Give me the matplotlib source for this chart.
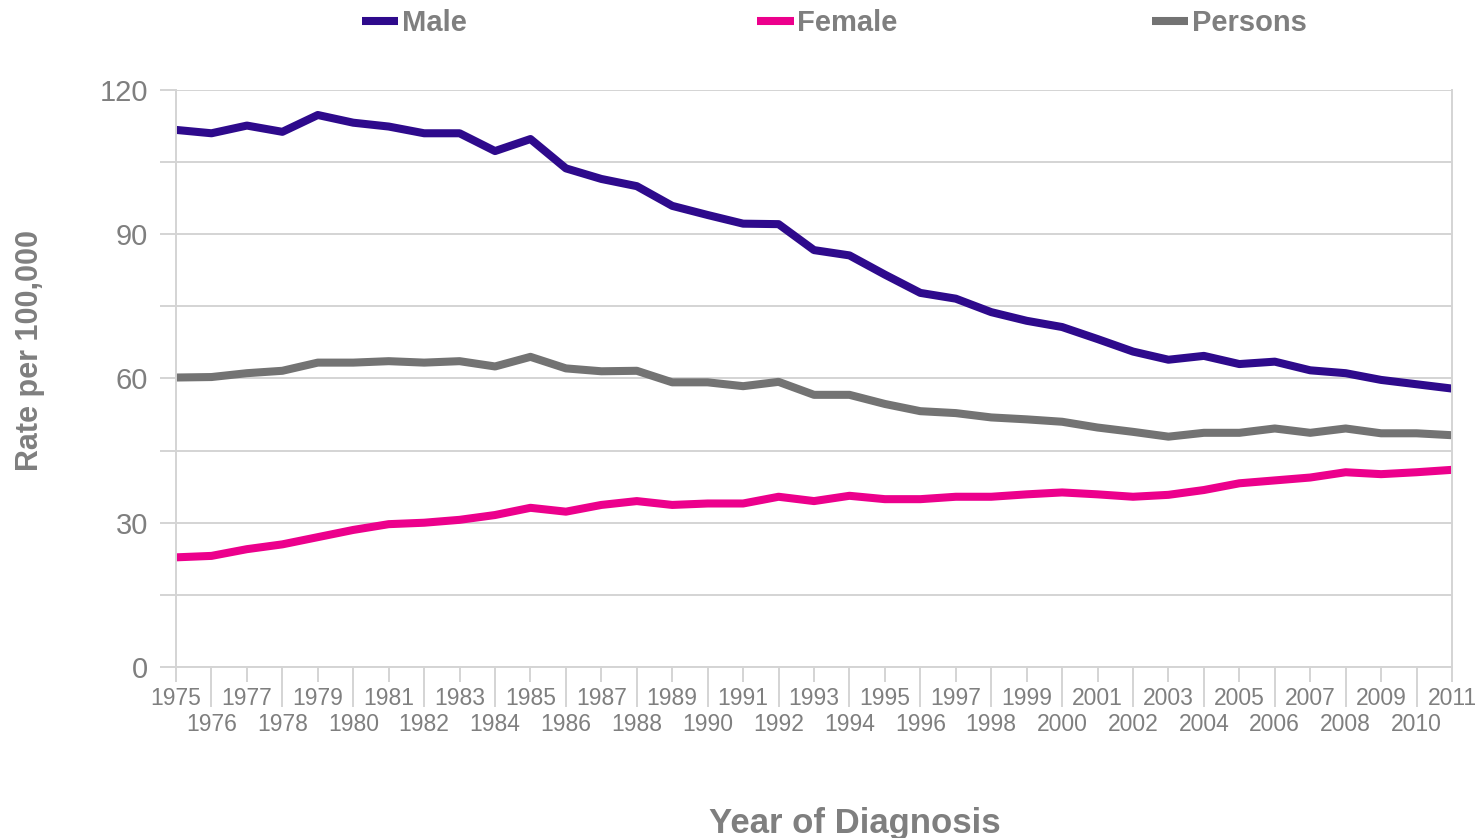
import matplotlib
matplotlib.use("Agg")
import matplotlib.pyplot as plt

# Rates per 100,000 by year of diagnosis
years = list(range(1975, 2012))
male = [111.7, 111.0, 112.6, 111.3, 114.8, 113.2, 112.4, 111.0, 111.0, 107.3,
        109.8, 103.7, 101.5, 100.0, 95.9, 94.0, 92.2, 92.1, 86.7, 85.6,
        81.6, 77.8, 76.6, 73.8, 72.0, 70.7, 68.2, 65.6, 63.9, 64.7,
        63.0, 63.5, 61.7, 61.1, 59.7, 58.8, 57.9]
female = [22.8, 23.1, 24.5, 25.5, 27.0, 28.5, 29.7, 30.0, 30.6, 31.6,
          33.1, 32.3, 33.7, 34.5, 33.7, 34.0, 34.0, 35.4, 34.5, 35.6,
          34.9, 34.9, 35.4, 35.4, 35.9, 36.3, 35.9, 35.4, 35.8, 36.8,
          38.2, 38.8, 39.4, 40.5, 40.1, 40.5, 41.0]
persons = [60.2, 60.3, 61.1, 61.6, 63.3, 63.3, 63.6, 63.3, 63.6, 62.5,
           64.5, 62.1, 61.5, 61.6, 59.2, 59.2, 58.4, 59.3, 56.6, 56.6,
           54.7, 53.2, 52.8, 51.9, 51.5, 51.0, 49.8, 48.9, 47.9, 48.7,
           48.7, 49.6, 48.7, 49.6, 48.6, 48.6, 48.2]

series = [("Male", male, "#2e0a8c"),
          ("Female", female, "#ec008c"),
          ("Persons", persons, "#737373")]

text_grey = "#7f7f7f"
grid_grey = "#d4d4d4"

plt.rcParams['font.family'] = ['Liberation Sans', 'DejaVu Sans']

fig = plt.figure(figsize=(14.83, 8.38), dpi=100)
ax = fig.add_axes([0.1187, 0.2041, 0.8604, 0.6885])

lines = []
for name, vals, col in series:
	ln, = ax.plot(years, vals, color=col, lw=5.8, solid_joinstyle="round",
	              solid_capstyle="butt", label=name)
	lines.append(ln)

ax.set_xlim(1975, 2011)
ax.set_ylim(0, 120)

# y axis
ax.set_yticks(range(0, 121, 30))
ax.set_yticks(range(15, 120, 30), minor=True)
ax.grid(axis="y", which="both", color=grid_grey, lw=1.4)
ax.tick_params(axis="y", which="both", length=11.5, width=1.4, color=grid_grey,
               labelsize=21, labelcolor=text_grey, pad=8.5)
ax.set_axisbelow(True)

# x axis: odd years on first row, even years on second row
odd_years = [y for y in years if y % 2 == 1]
even_years = [y for y in years if y % 2 == 0]
ax.set_xticks(odd_years)
ax.set_xticklabels([str(y) for y in odd_years])
ax.set_xticks(even_years, minor=True)
ax.set_xticklabels([str(y) for y in even_years], minor=True)
ax.tick_params(axis="x", which="major", length=10.8, width=1.4, color=grid_grey,
               labelsize=16.5, labelcolor=text_grey, pad=3.6)
ax.tick_params(axis="x", which="minor", length=28.8, width=1.4, color=grid_grey,
               labelsize=16.5, labelcolor=text_grey, pad=4)

for side in ["left", "right", "bottom"]:
	ax.spines[side].set_color(grid_grey)
	ax.spines[side].set_linewidth(1.4)
ax.spines["top"].set_visible(False)

ax.set_ylabel("Rate per 100,000", fontsize=22, fontweight="bold", color=text_grey)
ax.yaxis.set_label_coords(-0.1027, 0.549)
ax.set_xlabel("Year of Diagnosis", fontsize=25, fontweight="bold", color=text_grey)
ax.xaxis.set_label_coords(0.532, -0.242)

# legend entries spaced evenly across the top
for ln, x0 in zip(lines, [0.2441, 0.5105, 0.7768]):
	fig.legend([ln], [ln.get_label()], loc="center left", bbox_to_anchor=(x0, 0.972),
	           frameon=False, handlelength=1.25, handletextpad=0.12, borderpad=0,
	           borderaxespad=0, prop={"size": 21, "weight": "bold"},
	           labelcolor=text_grey)

plt.savefig("out.png", dpi=100)
